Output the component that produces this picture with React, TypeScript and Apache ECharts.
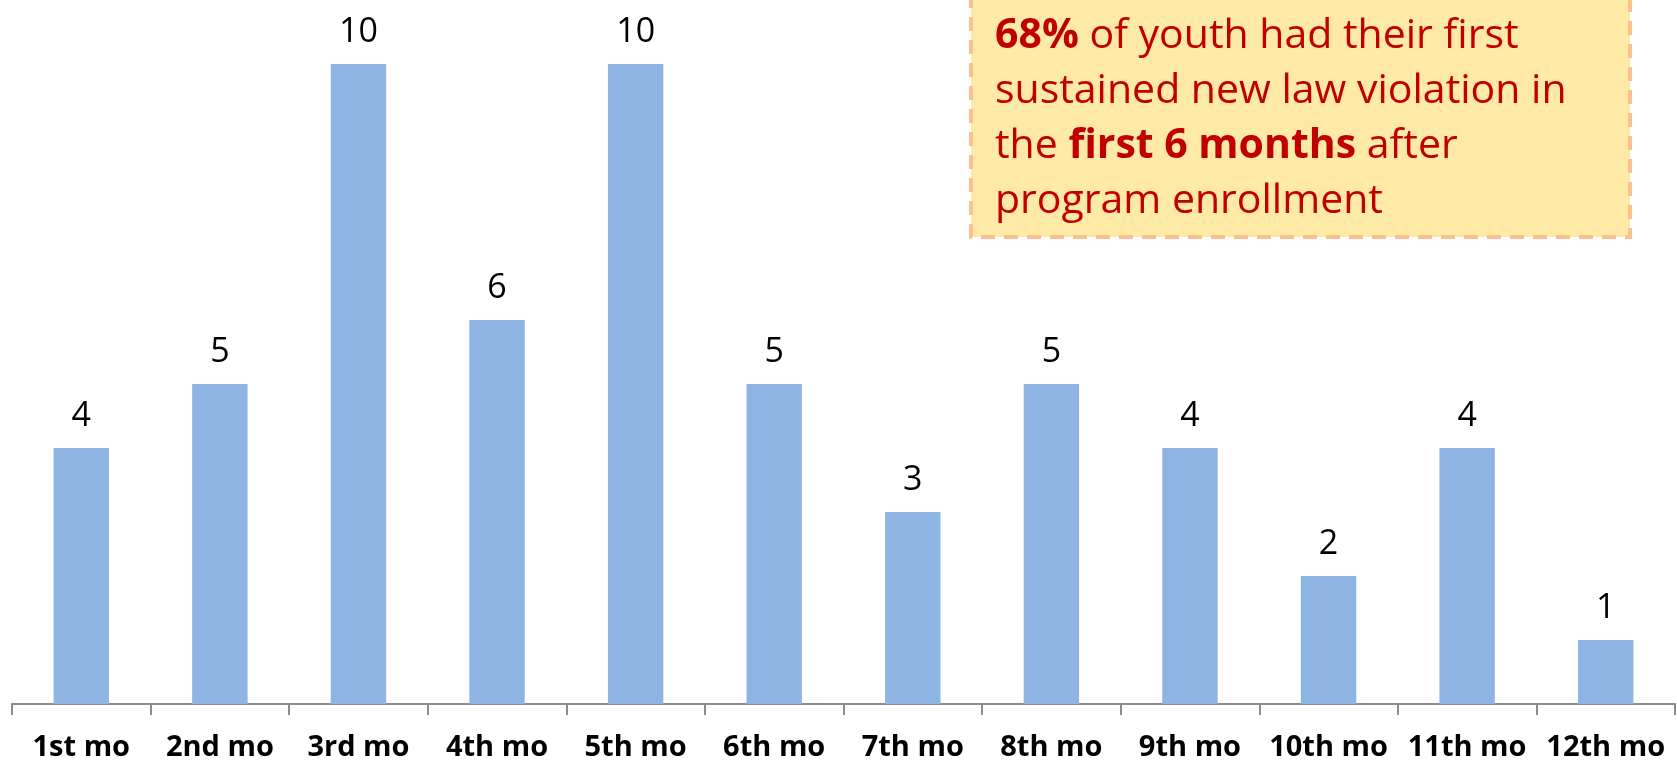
import React, { useEffect, useRef } from "react";
import * as echarts from "echarts";

const categories = ["1st mo", "2nd mo", "3rd mo", "4th mo", "5th mo", "6th mo", "7th mo", "8th mo", "9th mo", "10th mo", "11th mo", "12th mo"];
const counts = [4, 5, 10, 6, 10, 5, 3, 5, 4, 2, 4, 1];
const noteText = "{b|68%} of youth had their first\nsustained new law violation in\nthe {b|first 6 months} after\nprogram enrollment";

export default function App() {
  const ref = useRef<HTMLDivElement>(null);
  useEffect(() => {
    const chart = echarts.init(ref.current!, null, { renderer: "svg" });
    const font = "'Open Sans', sans-serif";
    chart.setOption({
      animation: false,
      grid: { left: 12, right: 2, top: 64, bottom: 60, containLabel: false },
      xAxis: {
        type: "category",
        data: categories,
        axisLine: { lineStyle: { color: "#8c8c8c", width: 2 } },
        axisTick: { show: true, length: 11, lineStyle: { color: "#8c8c8c", width: 2 } },
        axisLabel: { color: "#000", fontWeight: "bold", fontSize: 29, fontFamily: font, margin: 26, interval: 0 },
      },
      yAxis: { type: "value", min: 0, max: 10, show: false, splitLine: { show: false } },
      series: [
        {
          type: "bar",
          data: counts,
          barWidth: "40%",
          itemStyle: { color: "#8EB4E3" },
          label: { show: true, position: "top", distance: 18, color: "#000", fontSize: 34, fontFamily: font },
        },
      ],
      graphic: [
        {
          type: "rect",
          shape: { x: 971, y: -10, width: 659, height: 247 },
          style: { fill: "#FFE9A6", stroke: "#FAC090", lineWidth: 4, lineDash: [14, 9] },
          z: 10,
        },
        {
          type: "text",
          x: 995,
          y: 4,
          z: 11,
          style: {
            text: noteText,
            fill: "#C00000",
            fontSize: 41,
            fontFamily: font,
            lineHeight: 55,
            rich: {
              b: { fontWeight: "bold", fill: "#C00000", fontSize: 41, fontFamily: font, lineHeight: 55 },
            },
          },
        },
      ],
    });
    return () => chart.dispose();
  }, []);
  return <div ref={ref} style={{ position: "fixed", left: 0, top: 0, width: 1677, height: 764 }} />;
}
